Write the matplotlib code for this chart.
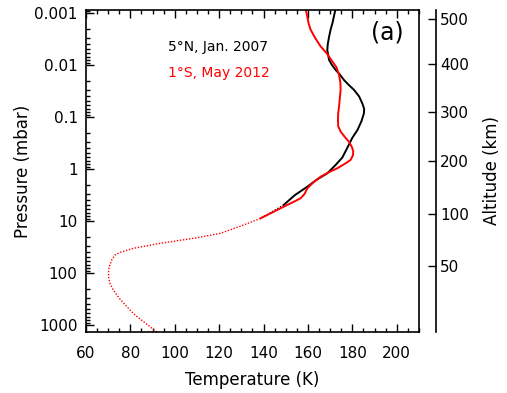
import numpy as np
import matplotlib
matplotlib.use("Agg")
import matplotlib.pyplot as plt
from matplotlib.ticker import MultipleLocator, LogLocator, NullFormatter, FixedLocator

# 5N, Jan. 2007 retrieval (temperature K, pressure mbar)
t_jan2007 = [149.1, 154.0, 159.7, 164.0, 168.7, 172.3, 175.5, 178.0, 180.0, 182.3,
             184.1, 185.2, 185.3, 184.5, 183.0, 180.7, 178.3, 176.2, 174.2, 172.5,
             170.8, 169.5, 168.7, 168.9, 169.5, 170.3, 171.0, 171.8, 172.5]
p_jan2007 = [4.9, 3.2, 2.19, 1.6, 1.21, 0.85, 0.6, 0.37, 0.25, 0.178,
             0.12, 0.085, 0.07, 0.055, 0.04, 0.030, 0.024, 0.0194, 0.015, 0.0125,
             0.0100, 0.0080, 0.0052, 0.0040, 0.00286, 0.0020, 0.00158, 0.0011, 0.00081]

# 1S, May 2012 retrieval
t_may2012 = [138.6, 143.5, 147.6, 152.5, 156.7, 158.5, 159.7, 162.5, 165.7, 169.5,
             173.2, 176.5, 179.2, 180.2, 180.4, 179.8, 178.5, 176.5, 174.7, 173.6,
             173.5, 173.6, 174.0, 174.3, 174.7, 174.6, 174.0, 172.8, 171.0, 168.5,
             165.7, 163.2, 161.2, 160.3, 159.7, 158.9]
p_may2012 = [8.9, 7.0, 5.7, 4.5, 3.66, 3.0, 2.35, 1.8, 1.41, 1.15,
             0.97, 0.8, 0.67, 0.55, 0.46, 0.38, 0.30, 0.24, 0.19, 0.15,
             0.114, 0.085, 0.063, 0.045, 0.030, 0.022, 0.0156, 0.011, 0.0086, 0.006,
             0.0044, 0.003, 0.0021, 0.0016, 0.00118, 0.00081]

# extrapolated lower part (dotted)
t_deep = [138.6, 129.6, 120.5, 108.5, 93.4, 81.4, 75.4, 73.1, 71.6, 70.5,
          70.2, 70.1, 70.8, 72.3, 75.0, 78.4, 82.1, 85.9, 92.7]
p_deep = [8.9, 12.6, 17.3, 21.5, 26.9, 33.5, 40, 45, 56, 75.5,
          94, 118, 158, 212, 307, 444, 643, 863, 1445]
t_link = [149.1, 144.0, 138.6]
p_link = [4.9, 6.6, 8.9]

# altitude axis: labels and pressure levels where they sit
alt_labels = ["500", "400", "300", "200", "100", "50"]
alt_pressure = [0.0013, 0.0096, 0.080, 0.70, 7.3, 73]

fig = plt.figure(figsize=(5.07, 3.93), dpi=100)
ax = fig.add_axes([0.1696, 0.1552, 0.6568, 0.8194])

ax.plot(t_deep, p_deep, color="red", lw=1.0, ls=(0, (1, 1.2)))
ax.plot(t_link, p_link, color="black", lw=1.0, ls=(0, (1, 1.2)))
ax.plot(t_jan2007, p_jan2007, color="black", lw=1.4)
ax.plot(t_may2012, p_may2012, color="red", lw=1.4)

ax.set_yscale("log")
ax.set_ylim(1365, 0.000875)
ax.set_xlim(60, 210)
ax.xaxis.set_major_locator(MultipleLocator(20))
ax.xaxis.set_minor_locator(MultipleLocator(5))
ax.yaxis.set_major_locator(FixedLocator([0.001, 0.01, 0.1, 1, 10, 100, 1000]))
ax.yaxis.set_minor_locator(LogLocator(base=10, subs=np.arange(2, 10), numticks=20))
ax.yaxis.set_minor_formatter(NullFormatter())
ax.set_yticklabels(["0.001", "0.01", "0.1", "1", "10", "100", "1000"])

ax.tick_params(which="both", direction="in", top=True, right=True, labelsize=11)
ax.tick_params(which="major", length=6, width=1.0)
ax.tick_params(which="minor", length=3, width=1.0)
ax.tick_params(axis="y", pad=6)
ax.tick_params(axis="x", pad=10)
for s in ax.spines.values():
    s.set_linewidth(1.2)

ax.set_xlabel("Temperature (K)", fontsize=12, labelpad=7)
ax.set_ylabel("Pressure (mbar)", fontsize=12, labelpad=2)

ax.text(0.245, 0.873, "5\u00b0N, Jan. 2007", transform=ax.transAxes, fontsize=10, color="black")
ax.text(0.245, 0.793, "1\u00b0S, May 2012", transform=ax.transAxes, fontsize=10, color="red")
ax.text(0.955, 0.93, "(a)", transform=ax.transAxes, fontsize=17, ha="right", va="center")

ax2 = ax.twinx()
ax2.set_yscale("log")
ax2.set_ylim(ax.get_ylim())
ax2.yaxis.set_major_locator(FixedLocator(alt_pressure))
ax2.yaxis.set_minor_locator(FixedLocator([]))
ax2.set_yticklabels(alt_labels)
ax2.spines["right"].set_position(("outward", 12.2))
ax2.spines["right"].set_linewidth(1.2)
for k in ["left", "top", "bottom"]:
    ax2.spines[k].set_visible(False)
ax2.tick_params(axis="y", direction="in", length=6, width=1.0, labelsize=11, pad=3)
ax2.set_ylabel("Altitude (km)", fontsize=12, labelpad=10)

fig.savefig("out.png", dpi=100)
